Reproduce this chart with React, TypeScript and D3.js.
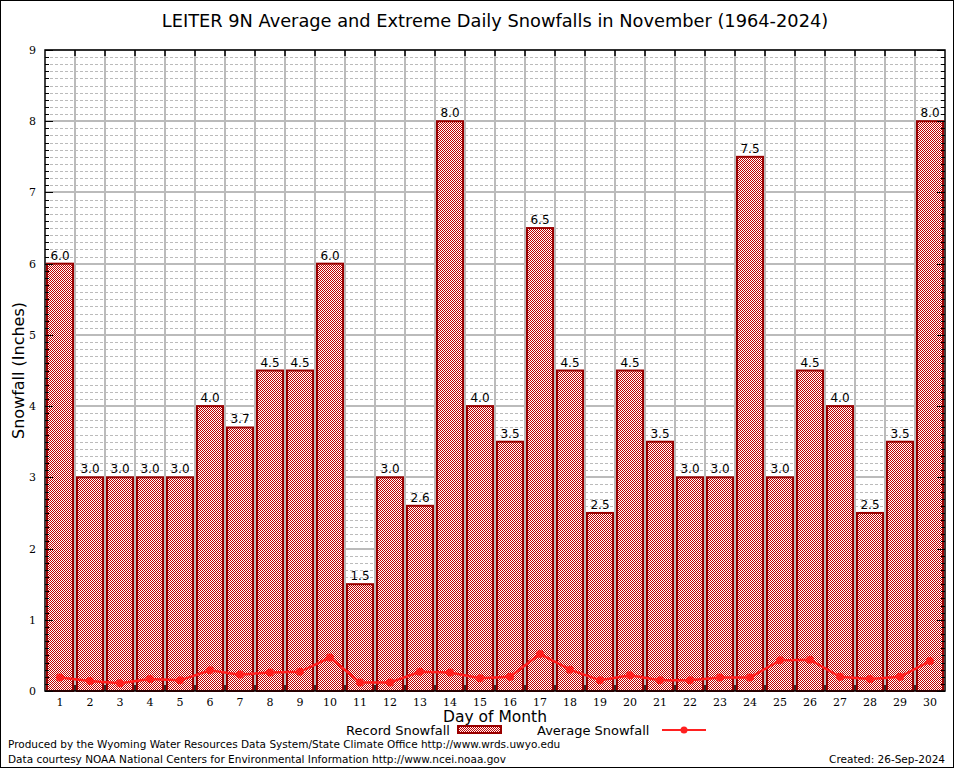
import { useEffect, useRef } from 'react';
import * as d3 from 'd3';

const days = d3.range(1, 31).map(String);
const recordSnow = [6.0, 3.0, 3.0, 3.0, 3.0, 4.0, 3.7, 4.5, 4.5, 6.0, 1.5, 3.0, 2.6, 8.0, 4.0, 3.5, 6.5, 4.5, 2.5, 4.5, 3.5, 3.0, 3.0, 7.5, 3.0, 4.5, 4.0, 2.5, 3.5, 8.0];
const avgSnow = [0.19, 0.14, 0.11, 0.17, 0.15, 0.29, 0.23, 0.26, 0.27, 0.47, 0.12, 0.12, 0.27, 0.26, 0.18, 0.2, 0.52, 0.3, 0.15, 0.22, 0.15, 0.15, 0.19, 0.19, 0.43, 0.44, 0.2, 0.17, 0.2, 0.42];
const yTicks = d3.range(0, 10);

export default function App() {
  const svgRef = useRef<SVGSVGElement>(null);

  useEffect(() => {
    if (!svgRef.current) return;
    const svg = d3.select(svgRef.current);
    svg.selectAll('*').remove();

    const width = 954;
    const height = 768;
    const margin = { top: 50, right: 9, bottom: 77, left: 45 };
    const sans = 'DejaVu Sans, sans-serif';
    const serif = 'DejaVu Serif, serif';

    svg.attr('width', width).attr('height', height);

    // checker pattern for the bars
    const defs = svg.append('defs');
    const pat = defs.append('pattern')
      .attr('id', 'checker')
      .attr('patternUnits', 'userSpaceOnUse')
      .attr('width', 2)
      .attr('height', 2)
      .attr('shape-rendering', 'crispEdges');
    pat.append('rect').attr('width', 2).attr('height', 2).attr('fill', '#fff');
    pat.append('rect').attr('width', 1).attr('height', 1).attr('fill', '#c00000');
    pat.append('rect').attr('x', 1).attr('y', 1).attr('width', 1).attr('height', 1).attr('fill', '#c00000');

    svg.append('rect')
      .attr('x', 0.5).attr('y', 0.5)
      .attr('width', width - 1).attr('height', height - 1)
      .attr('fill', '#fff').attr('stroke', '#000');

    const x = d3.scaleBand<string>()
      .domain(days)
      .range([margin.left, width - margin.right])
      .paddingInner(0.1)
      .paddingOuter(0.05);

    const y = d3.scaleLinear()
      .domain([0, 9])
      .range([height - margin.bottom, margin.top]);

    const x0 = margin.left;
    const x1 = width - margin.right;
    const boundary = (d: string) => x(d)! - (x.step() * x.paddingInner()) / 2;

    // minor grid
    const minor = d3.range(0, 90).map(v => v / 10).filter(v => Math.abs(v - Math.round(v)) > 0.01);
    svg.append('g').selectAll('line').data(minor).enter().append('line')
      .attr('x1', x0).attr('x2', x1)
      .attr('y1', d => Math.round(y(d)) + 0.5).attr('y2', d => Math.round(y(d)) + 0.5)
      .attr('stroke', '#bbb').attr('stroke-dasharray', '3,2');

    // major grid
    svg.append('g').selectAll('line').data(yTicks.slice(1)).enter().append('line')
      .attr('x1', x0).attr('x2', x1)
      .attr('y1', d => Math.round(y(d))).attr('y2', d => Math.round(y(d)))
      .attr('stroke', '#bbb').attr('stroke-width', 2);

    svg.append('g').selectAll('line').data(days.slice(1)).enter().append('line')
      .attr('x1', d => boundary(d)).attr('x2', d => boundary(d))
      .attr('y1', y(9)).attr('y2', y(0))
      .attr('stroke', '#bbb').attr('stroke-width', 2);

    // bars
    svg.append('g').selectAll('rect').data(recordSnow).enter().append('rect')
      .attr('x', (_, i) => x(days[i])! + 0.5)
      .attr('y', d => y(d))
      .attr('width', x.bandwidth() - 1)
      .attr('height', d => y(0) - y(d))
      .attr('fill', 'url(#checker)')
      .attr('stroke', '#990000')
      .attr('stroke-width', 2);

    svg.append('g').selectAll('text').data(recordSnow).enter().append('text')
      .attr('x', (_, i) => x(days[i])! + x.bandwidth() / 2)
      .attr('y', d => y(d) - 4)
      .attr('text-anchor', 'middle')
      .style('font-family', sans)
      .style('font-size', '12px')
      .text(d => d.toFixed(1));

    // average line
    const line = d3.line<number>()
      .x((_, i) => x(days[i])! + x.bandwidth() / 2)
      .y(d => y(d));

    svg.append('path')
      .datum(avgSnow)
      .attr('d', line)
      .attr('fill', 'none')
      .attr('stroke', '#ff2020')
      .attr('stroke-width', 2.5);

    svg.append('g').selectAll('circle').data(avgSnow).enter().append('circle')
      .attr('cx', (_, i) => x(days[i])! + x.bandwidth() / 2)
      .attr('cy', d => y(d))
      .attr('r', 4)
      .attr('fill', '#ff2020');

    // frame and ticks
    svg.append('rect')
      .attr('x', x0).attr('y', y(9))
      .attr('width', x1 - x0).attr('height', y(0) - y(9))
      .attr('fill', 'none').attr('stroke', '#000').attr('stroke-width', 1.5);

    const allTicks = d3.range(0, 91).map(v => v / 10);
    const tk = svg.append('g').attr('stroke', '#000');
    allTicks.forEach(v => {
      const major = Math.abs(v - Math.round(v)) < 0.01;
      const len = major ? 8 : 4;
      const yy = Math.round(y(v)) + 0.5;
      tk.append('line').attr('x1', x0).attr('x2', x0 + len).attr('y1', yy).attr('y2', yy);
      tk.append('line').attr('x1', x1).attr('x2', x1 - len).attr('y1', yy).attr('y2', yy);
    });
    days.slice(1).forEach(d => {
      const xx = boundary(d);
      tk.append('line').attr('x1', xx).attr('x2', xx).attr('y1', y(9)).attr('y2', y(9) + 6).attr('stroke-width', 1.5);
      tk.append('line').attr('x1', xx).attr('x2', xx).attr('y1', y(0)).attr('y2', y(0) - 6).attr('stroke-width', 1.5);
    });

    // tick labels
    svg.append('g').selectAll('text').data(yTicks).enter().append('text')
      .attr('x', x0 - 9)
      .attr('y', d => y(d) + 4)
      .attr('text-anchor', 'end')
      .style('font-family', serif)
      .style('font-size', '11px')
      .text(d => String(d));

    svg.append('g').selectAll('text').data(days).enter().append('text')
      .attr('x', d => x(d)! + x.bandwidth() / 2)
      .attr('y', y(0) + 15)
      .attr('text-anchor', 'middle')
      .style('font-family', serif)
      .style('font-size', '11px')
      .text(d => d);

    // titles
    svg.append('text')
      .attr('x', (x0 + x1) / 2).attr('y', 27)
      .attr('text-anchor', 'middle')
      .style('font-family', sans).style('font-size', '17.8px')
      .text('LEITER 9N Average and Extreme Daily Snowfalls in November (1964-2024)');

    svg.append('text')
      .attr('x', (x0 + x1) / 2).attr('y', 722)
      .attr('text-anchor', 'middle')
      .style('font-family', sans).style('font-size', '15.5px')
      .text('Day of Month');

    svg.append('text')
      .attr('transform', `translate(24,${(y(0) + y(9)) / 2}) rotate(-90)`)
      .attr('text-anchor', 'middle')
      .style('font-family', sans).style('font-size', '16px')
      .text('Snowfall (Inches)');

    // legend
    const lg = svg.append('g').style('font-family', sans).style('font-size', '13px');
    lg.append('text').attr('x', 450).attr('y', 735).attr('text-anchor', 'end').text('Record Snowfall');
    lg.append('rect').attr('x', 458).attr('y', 726).attr('width', 43).attr('height', 7)
      .attr('fill', 'url(#checker)').attr('stroke', '#990000').attr('stroke-width', 2);
    lg.append('text').attr('x', 537).attr('y', 735).text('Average Snowfall');
    lg.append('line').attr('x1', 662).attr('x2', 706).attr('y1', 730).attr('y2', 730)
      .attr('stroke', '#ff2020').attr('stroke-width', 2);
    lg.append('circle').attr('cx', 684).attr('cy', 730).attr('r', 3.5).attr('fill', '#ff2020');

    // footer
    const ft = svg.append('g').style('font-family', sans).style('font-size', '10.5px');
    ft.append('text').attr('x', 8).attr('y', 748).text('Produced by the Wyoming Water Resources Data System/State Climate Office http://www.wrds.uwyo.edu');
    ft.append('text').attr('x', 8).attr('y', 763).text('Data courtesy NOAA National Centers for Environmental Information http://www.ncei.noaa.gov');
    ft.append('text').attr('x', 945).attr('y', 763).attr('text-anchor', 'end').text('Created: 26-Sep-2024');
  }, []);

  return (
    <svg ref={svgRef} style={{ position: 'absolute', left: 0, top: 0 }} />
  );
}
